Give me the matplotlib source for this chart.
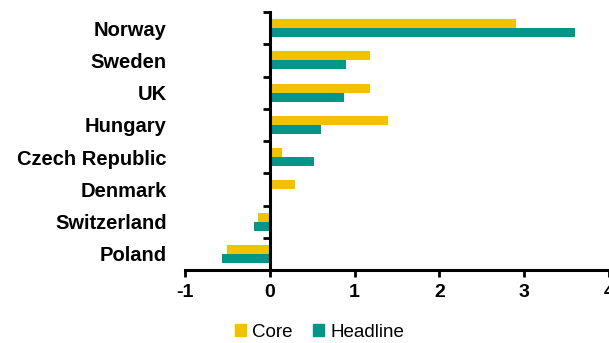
import matplotlib
matplotlib.use("Agg")
import matplotlib.pyplot as plt
import numpy as np
from matplotlib.patches import Patch

countries = ["Norway", "Sweden", "UK", "Hungary", "Czech Republic", "Denmark", "Switzerland", "Poland"]
core = [2.9, 1.18, 1.18, 1.39, 0.14, 0.30, -0.14, -0.50]
headline = [3.6, 0.90, 0.88, 0.60, 0.52, 0.0, -0.19, -0.56]
xticks = [-1, 0, 1, 2, 3, 4]

yellow = "#F2C200"
teal = "#009688"

plt.rcParams["font.family"] = ["Liberation Sans", "DejaVu Sans"]

fig = plt.figure(figsize=(6.09, 3.43), dpi=100)
ax = fig.add_axes([185/609, 1 - 270/343, 1 - 185/609, (270 - 12)/343])

ax.spines["left"].set_visible(False)
ax.spines["top"].set_visible(False)
ax.spines["right"].set_position(("data", 0))
ax.spines["right"].set_linewidth(2.2)
ax.spines["bottom"].set_linewidth(2.2)

y = np.arange(len(countries))
h = 0.28
ax.barh(y - h/2, core, height=h, color=yellow, label="Core")
ax.barh(y + h/2, headline, height=h, color=teal, label="Headline")

ax.set_ylim(len(countries) - 0.5, -0.5)
ax.set_xlim(-1, 4)
ax.set_xticks(xticks)
ax.set_xticklabels([str(t) for t in xticks], fontsize=14, fontweight="bold")

ax.set_yticks(y)
ax.set_yticklabels(countries, fontsize=14.5, fontweight="bold")
ax.set_yticks(np.arange(len(countries) + 1) - 0.5, minor=True)

ax.tick_params(axis="y", which="major", length=0, left=False, right=False, pad=13)
ax.tick_params(axis="y", which="minor", left=False, right=True, direction="in", length=5, width=2)
ax.tick_params(axis="x", which="major", direction="out", length=5, width=2, pad=5)

handles = [Patch(color=yellow), Patch(color=teal)]
fig.legend(handles, ["Core", "Headline"], loc="center", bbox_to_anchor=(0.525, 0.032),
           ncol=2, frameon=False, fontsize=13.5, handlelength=0.55, handleheight=0.55,
           handletextpad=0.35, columnspacing=1.1)

fig.savefig("out.png", dpi=100)
